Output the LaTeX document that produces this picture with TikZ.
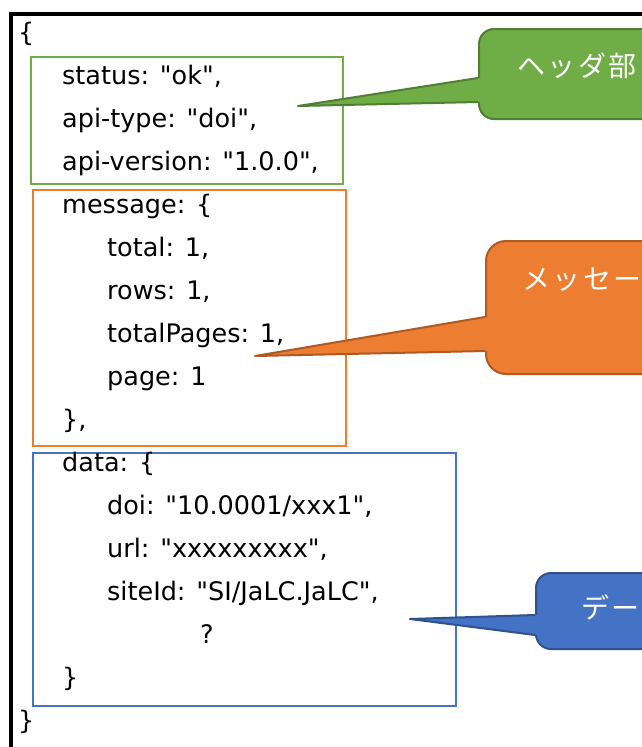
\documentclass[tikz,border=0pt]{standalone}
\usepackage{fontspec}
\setmainfont[Ligatures=TeXOff]{DejaVu Sans}
\newfontfamily\codefont[Ligatures=TeXOff]{DejaVu Sans}
\newfontfamily\cjk[LetterSpace=9]{Noto Sans CJK JP}
\definecolor{gboxc}{HTML}{70AD47}
\definecolor{oboxc}{HTML}{ED7D31}
\definecolor{bboxc}{HTML}{4472C4}
\definecolor{gedge}{HTML}{507E32}
\definecolor{oedge}{HTML}{AE5A21}
\definecolor{bedge}{HTML}{2F528F}
\tikzset{
  code/.style={anchor=base west, inner sep=0pt, font=\codefont\fontsize{25.5}{30}\selectfont, text=black},
  region/.style={line width=2.8pt},
  callout/.style={rounded corners=15pt, line width=2pt, anchor=north west, inner sep=0pt},
  calltext/.style={anchor=west, inner sep=0pt, text=white, font=\cjk\fontsize{28}{32}\selectfont},
}
\begin{document}
\begin{tikzpicture}[x=1pt,y=-1pt]
\useasboundingbox (0,0) rectangle (642,747);
\clip (0,0) rectangle (642,747);
\fill[white] (0,0) rectangle (642,747);
% outer frame
\draw[line width=4pt] (10.5,14) rectangle (720,800);
% region boxes
\draw[region, gboxc] (31,57) rectangle (343,184);
\draw[region, oboxc] (33,190) rectangle (346,446);
\draw[region, bboxc] (33,453) rectangle (456,706);
% code lines
\node[code] (l0) at (18,41.5) {\{};
\node[code] (l1) at (62,84.5) {status: "ok",};
\node[code] (l2) at (62,127.5) {api-type: "doi",};
\node[code] (l3) at (62,170.5) {api-version: "1.0.0",};
\node[code] (l4) at (62,213.5) {message: \{};
\node[code] (l5) at (107,256.5) {total: 1,};
\node[code] (l6) at (107,299.5) {rows: 1,};
\node[code] (l7) at (107,342.5) {totalPages: 1,};
\node[code] (l8) at (107,385.5) {page: 1};
\node[code] (l9) at (62,428.5) {\},};
\node[code] (l10) at (62,471.5) {data: \{};
\node[code] (l11) at (107,514.5) {doi: "10.0001/xxx1",};
\node[code] (l12) at (107,557.5) {url: "xxxxxxxxx",};
\node[code] (l13) at (107,600.5) {siteId: "SI/JaLC.JaLC",};
\node[code] (l14) at (200,643.5) {?};
\node[code] (l15) at (62,686.5) {\}};
\node[code] (l16) at (18,729.5) {\}};
% green callout
\node[callout, fill=gboxc, draw=gedge, minimum width=202pt, minimum height=90pt] (hdr) at (478,28) {};
\coordinate (hdrtip) at (298,106);
\coordinate (hdrA) at (478,78);
\coordinate (hdrB) at (478,102);
\fill[gboxc] (hdrtip) -- (hdrA) -- ([xshift=4pt]hdrA) -- ([xshift=4pt]hdrB) -- (hdrB) -- cycle;
\draw[gedge, line width=2pt, line join=round] (hdrA) -- (hdrtip) -- (hdrB);
\node[calltext] (hdrt) at (517,66) {ヘッダ部};
% orange callout
\node[callout, rounded corners=20pt, fill=oboxc, draw=oedge, minimum width=260pt, minimum height=133pt] (msg) at (485,240) {};
\coordinate (msgtip) at (255,356);
\coordinate (msgA) at (485,317);
\coordinate (msgB) at (485,351);
\fill[oboxc] (msgtip) -- (msgA) -- ([xshift=4pt]msgA) -- ([xshift=4pt]msgB) -- (msgB) -- cycle;
\draw[oedge, line width=2pt, line join=round] (msgA) -- (msgtip) -- (msgB);
\node[calltext] (msgt) at (522,280) {メッセー};
% blue callout
\node[callout, fill=bboxc, draw=bedge, minimum width=214pt, minimum height=76pt] (dat) at (535,572) {};
\coordinate (dattip) at (410,619);
\coordinate (datA) at (535,615);
\coordinate (datB) at (535,635);
\fill[bboxc] (dattip) -- (datA) -- ([xshift=4pt]datA) -- ([xshift=4pt]datB) -- (datB) -- cycle;
\draw[bedge, line width=2pt, line join=round] (datA) -- (dattip) -- (datB);
\node[calltext] (datt) at (581,607) {デー};
\end{tikzpicture}
\end{document}
